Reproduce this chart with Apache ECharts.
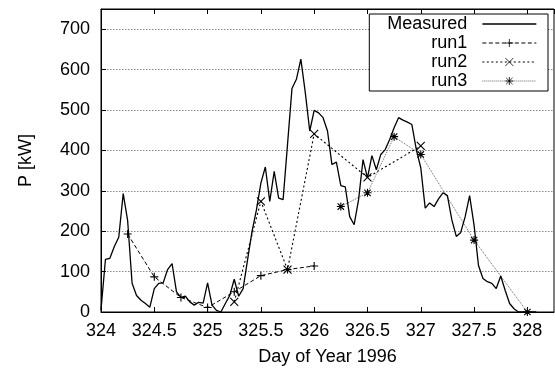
<!DOCTYPE html>
<html>
<head>
<meta charset="utf-8">
<script src="https://cdn.jsdelivr.net/npm/echarts@6/dist/echarts.min.js"></script>
<style>
  html, body {margin: 0; padding: 0; background: #fff;}
  #chart {width: 555px; height: 370px;}
</style>
</head>
<body>
<div id="chart"></div>
<script>
// hourly measured power, starting at day 324.0
const measuredStart = 324;
const measuredStep = 1 / 24;
const measured = [
  5, 130, 133, 162, 185, 293, 226, 71, 41, 29, 21, 12,
  58, 71, 72, 105, 120, 50, 36, 39, 25, 17, 24, 22,
  72, 17, 4, 0, 21, 41, 81, 39, 58, 129, 199, 253,
  319, 359, 274, 348, 282, 278, 415, 553, 576, 626, 543, 448,
  499, 493, 481, 448, 365, 371, 313, 310, 236, 216, 278, 377,
  332, 387, 352, 390, 402, 427, 456, 481, 475, 470, 464, 402,
  357, 257, 270, 261, 280, 295, 288, 228, 187, 197, 236, 288,
  215, 115, 83, 75, 71, 58, 89, 54, 21, 8, 0, 0,
  0, 0, 0
];
const run1Days = [324.25, 324.5, 324.75, 325, 325.25, 325.5, 325.75, 326];
const run1 = [193, 87, 36, 11, 50, 90, 105, 114];
const run2Days = [325.25, 325.5, 325.75, 326, 326.5, 327];
const run2 = [25, 274, 105, 441, 333, 411];
const run3Days = [326.25, 326.5, 326.75, 327, 327.5, 328];
const run3 = [261, 295, 434, 390, 178, 0];
const xTicks = [324, 324.5, 325, 325.5, 326, 326.5, 327, 327.5, 328];
const yTicks = [0, 100, 200, 300, 400, 500, 600, 700];

const FONT = 'Liberation Sans, Arial, Helvetica, sans-serif';
const PLUS = 'path://M0,5L10,5M5,0L5,10';
const CROSS = 'path://M0,0L10,10M10,0L0,10';
const STAR = 'path://M0,5L10,5M5,0L5,10M1,1L9,9M9,1L1,9';

const pairs = (xs, ys) => ys.map((v, i) => [xs[i], v]);
const measuredPts = measured.map((v, i) => [measuredStart + i * measuredStep, v]);

const hasTick = (list, v) => list.some(t => Math.abs(t - v) < 1e-6);

function runSeries(name, pts, symbol, dash, color, width) {
  return {
    name: name,
    type: 'line',
    data: pts,
    symbol: symbol,
    symbolSize: 8,
    clip: false,
    itemStyle: {color: 'transparent', borderColor: '#000', borderWidth: 1.1},
    lineStyle: {color: color, width: width, type: dash},
    emphasis: {disabled: true},
    z: 3
  };
}

const chart = echarts.init(document.getElementById('chart'));
chart.setOption({
  animation: false,
  backgroundColor: '#fff',
  textStyle: {fontFamily: FONT, color: '#000'},
  grid: {
    left: 101, top: 9, right: 1, bottom: 58,
    show: true, borderColor: '#000', borderWidth: 1,
    containLabel: false, outerBoundsMode: 'none'
  },
  legend: {
    right: 7, top: 14,
    orient: 'vertical',
    align: 'right',
    padding: [1, 11, 1, 18],
    itemGap: 1,
    itemWidth: 54,
    itemHeight: 10,
    backgroundColor: '#fff',
    borderColor: '#000',
    borderWidth: 1,
    borderRadius: 0,
    formatter: name => name + '  ',
    textStyle: {fontFamily: FONT, fontSize: 18, color: '#000'},
    data: [
      {name: 'Measured', itemStyle: {opacity: 0}, lineStyle: {width: 1.3}},
      {name: 'run1', itemStyle: {borderWidth: 0.8}, lineStyle: {width: 1}},
      {name: 'run2', itemStyle: {borderWidth: 0.8}, lineStyle: {width: 1.1}},
      {name: 'run3', itemStyle: {borderWidth: 0.8}, lineStyle: {width: 0.9}}
    ]
  },
  xAxis: [{
    type: 'value',
    min: 324, max: 328.25, interval: 0.5,
    name: 'Day of Year 1996',
    nameLocation: 'middle',
    nameGap: 36,
    nameTextStyle: {fontFamily: FONT, fontSize: 18, color: '#000'},
    axisLine: {show: true, lineStyle: {color: '#000', width: 1}},
    axisTick: {show: true, inside: true, length: 5, lineStyle: {color: '#000'}},
    axisLabel: {
      margin: 10, fontFamily: FONT, fontSize: 18, color: '#000',
      showMaxLabel: false,
      formatter: v => hasTick(xTicks, v) ? String(v) : ''
    },
    splitLine: {show: false}
  }, {
    type: 'value',
    position: 'top',
    min: 324, max: 328.25, interval: 0.5,
    axisLine: {show: true, lineStyle: {color: '#000', width: 1}},
    axisTick: {show: true, inside: true, length: 5, lineStyle: {color: '#000'}},
    axisLabel: {show: false},
    splitLine: {show: false}
  }],
  yAxis: {
    type: 'value',
    min: 0, max: 750, interval: 100,
    name: 'P [kW]',
    nameLocation: 'middle',
    nameGap: 66,
    nameRotate: 90,
    nameTextStyle: {fontFamily: FONT, fontSize: 18, color: '#000'},
    axisLine: {show: true, lineStyle: {color: '#000', width: 1}},
    axisTick: {show: true, inside: true, length: 5, lineStyle: {color: '#000'}},
    axisLabel: {
      margin: 11, fontFamily: FONT, fontSize: 18, color: '#000',
      showMaxLabel: false,
      formatter: v => hasTick(yTicks, v) ? String(v) : ''
    },
    splitLine: {show: true, lineStyle: {color: '#888', width: 1, type: [1.5, 1.5]}}
  },
  series: [
    {
      name: 'Measured',
      type: 'line',
      data: measuredPts,
      symbol: 'none',
      clip: true,
      lineStyle: {color: '#000', width: 1.3, type: 'solid'},
      itemStyle: {color: '#000'},
      emphasis: {disabled: true},
      z: 4
    },
    runSeries('run1', pairs(run1Days, run1), PLUS, [4, 2.5], '#000', 1),
    runSeries('run2', pairs(run2Days, run2), CROSS, [2, 2.5], '#000', 1.1),
    runSeries('run3', pairs(run3Days, run3), STAR, [1, 1], '#555', 0.9)
  ]
});
</script>
</body>
</html>
